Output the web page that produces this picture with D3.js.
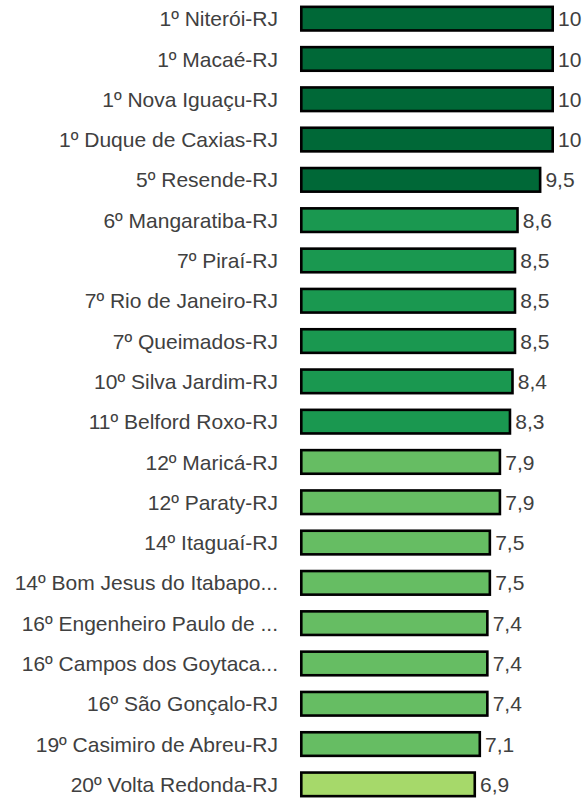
<!DOCTYPE html>
<html>
<head>
<meta charset="utf-8">
<script src="https://cdn.jsdelivr.net/npm/d3@7"></script>
<style>
  html, body { margin: 0; padding: 0; background: #fff; }
  svg { display: block; }
  .label { font-family: "Liberation Sans", Arial, sans-serif; font-size: 21px; fill: #404040; }
</style>
</head>
<body>
<svg width="584" height="798"></svg>
<script>
// municipalities, in ranking order
const cities = [
  "1º Niterói-RJ",
  "1º Macaé-RJ",
  "1º Nova Iguaçu-RJ",
  "1º Duque de Caxias-RJ",
  "5º Resende-RJ",
  "6º Mangaratiba-RJ",
  "7º Piraí-RJ",
  "7º Rio de Janeiro-RJ",
  "7º Queimados-RJ",
  "10º Silva Jardim-RJ",
  "11º Belford Roxo-RJ",
  "12º Maricá-RJ",
  "12º Paraty-RJ",
  "14º Itaguaí-RJ",
  "14º Bom Jesus do Itabapo...",
  "16º Engenheiro Paulo de ...",
  "16º Campos dos Goytaca...",
  "16º São Gonçalo-RJ",
  "19º Casimiro de Abreu-RJ",
  "20º Volta Redonda-RJ"
];

// scores
const scores = [10, 10, 10, 10, 9.5, 8.6, 8.5, 8.5, 8.5, 8.4, 8.3, 7.9, 7.9, 7.5, 7.5, 7.4, 7.4, 7.4, 7.1, 6.9];

// colour classes
const classBreaks = [7, 8, 9];
const classColors = ["#a6d96a", "#66bd63", "#1a9850", "#006837"];

const data = cities.map((c, i) => ({ city: c, score: scores[i] }));

const sw = 2.6;          // bar border width
const barLeft = 300;
const barRight = 554;

const svg = d3.select("svg");

// define scales
const y = d3.scaleBand()
  .domain(cities)
  .range([-1.5, 804.5])
  .paddingInner(0.35)
  .paddingOuter(0.175);
const x = d3.scaleLinear()
  .domain([0, 10])
  .range([barLeft + sw / 2, barRight - sw / 2]);
const color = d3.scaleThreshold()
  .domain(classBreaks)
  .range(classColors);

// decimal comma
const fmt = d3.formatLocale({ decimal: ",", thousands: ".", grouping: [3], currency: ["R$", ""] })
  .format(".2~r");

const row = svg.selectAll("g.row")
  .data(data)
  .enter()
  .append("g")
  .attr("class", "row");

// soft shadow
row.append("rect")
  .attr("x", x(0))
  .attr("y", d => y(d.city) + sw / 2 + 1)
  .attr("width", d => x(d.score) - x(0) + 1)
  .attr("height", y.bandwidth() - sw)
  .attr("fill", "#999")
  .attr("opacity", 0.5);

// bars
row.append("rect")
  .attr("x", x(0))
  .attr("y", d => y(d.city) + sw / 2)
  .attr("width", d => x(d.score) - x(0))
  .attr("height", y.bandwidth() - sw)
  .attr("fill", d => color(d.score))
  .attr("stroke", "#000")
  .attr("stroke-width", sw);

// category labels
row.append("text")
  .attr("class", "label")
  .attr("x", 278)
  .attr("y", d => y(d.city) + y.bandwidth() / 2)
  .attr("dy", "0.36em")
  .attr("text-anchor", "end")
  .text(d => d.city);

// value labels
row.append("text")
  .attr("class", "label")
  .attr("x", d => x(d.score) + sw / 2 + 4)
  .attr("y", d => y(d.city) + y.bandwidth() / 2)
  .attr("dy", "0.36em")
  .text(d => fmt(d.score));
</script>
</body>
</html>
